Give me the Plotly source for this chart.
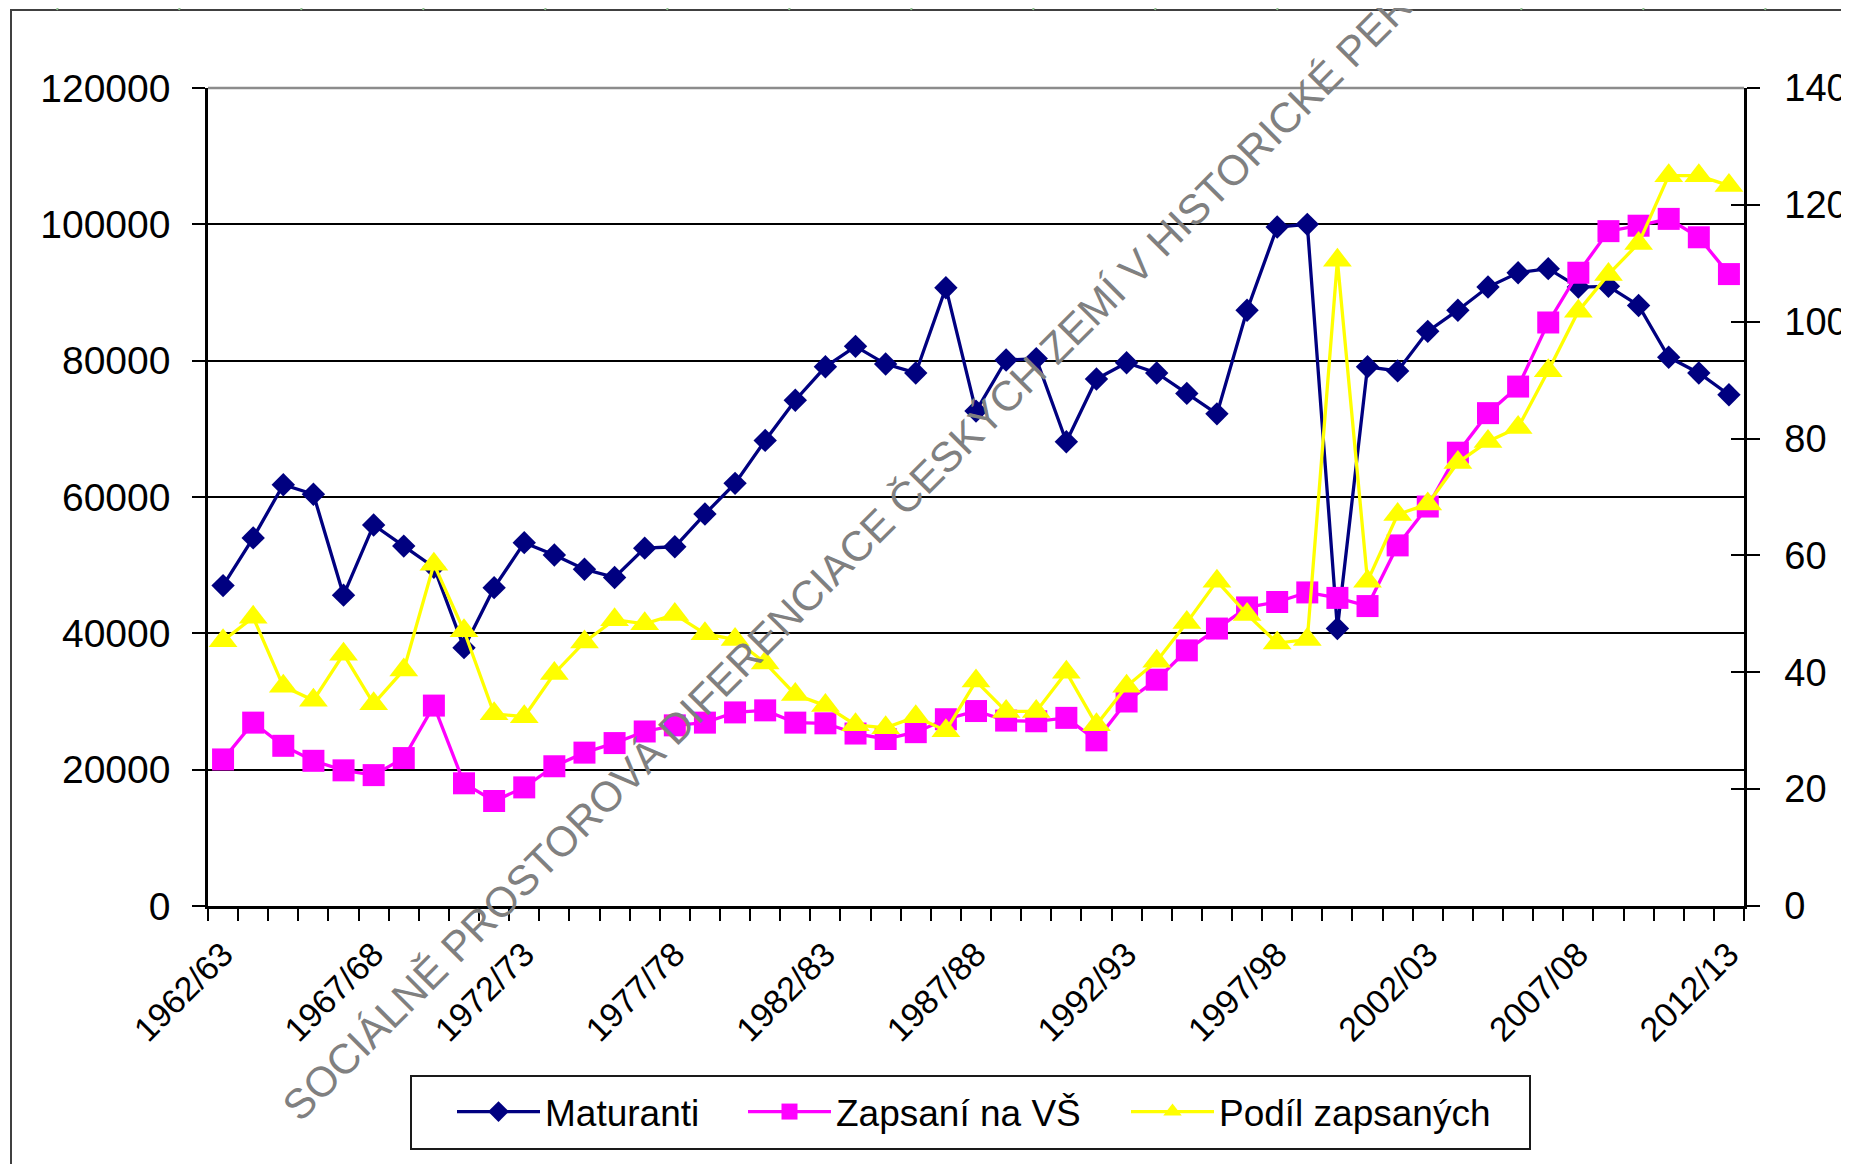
import plotly.graph_objects as go

# ---- data ----
years = [f"{y}/{str(y + 1)[-2:]}" for y in range(1962, 2013)]
maturanti = [47000, 54000, 61800, 60400, 45600, 55900, 52800, 49700, 37900, 46700,
             53300, 51500, 49400, 48200, 52500, 52700, 57500, 62000, 68300, 74200,
             79100, 82100, 79500, 78200, 90700, 72600, 80100, 80300, 68100, 77300,
             79700, 78200, 75200, 72200, 87400, 99600, 100000, 40700, 79100, 78500,
             84300, 87400, 90800, 92900, 93500, 90800, 90900, 88100, 80500, 78200, 75000]
zapsani = [21500, 26900, 23500, 21300, 19900, 19200, 21700, 29400, 18000, 15400,
           17400, 20500, 22500, 23900, 25600, 26500, 26900, 28400, 28700, 26900,
           26800, 25300, 24500, 25500, 27400, 28600, 27200, 27100, 27600, 24300,
           30000, 33200, 37500, 40700, 43800, 44600, 46000, 45200, 44000, 52900,
           58600, 66500, 72300, 76200, 85600, 92900, 99000, 99800, 100800, 98100, 92700]
podil = [45.4, 49.4, 37.6, 35.2, 43.1, 34.6, 40.4, 58.5, 47.1, 32.9,
         32.4, 39.8, 45.2, 49.0, 48.3, 49.9, 46.6, 45.6, 41.6, 36.2,
         34.3, 31.0, 30.5, 32.4, 30.0, 38.5, 33.3, 33.3, 40.0, 31.0,
         37.6, 41.9, 48.5, 55.6, 49.9, 45.0, 45.6, 110.5, 55.6, 67.0,
         68.8, 75.9, 79.5, 81.9, 91.6, 101.8, 108.1, 113.4, 125.0, 125.0, 123.3]
label_step = 5
left_ticks = [0, 20000, 40000, 60000, 80000, 100000, 120000]
right_ticks = [0, 20, 40, 60, 80, 100, 120, 140]

xs = list(range(len(years)))
tick_idx = xs[::label_step]

# page is 1849x1164; the figure sits at the default 8px body margin
OFF = 8
W, H = 1849 - OFF, 1164 - OFF
# plot-area edges in page pixels
PL, PR, PT, PB = 208, 1744, 88, 906
L, T = PL - OFF, PT - OFF
R, B = W - (PR - OFF), H - (PB - OFF)
pw, ph = W - L - R, H - T - B
FONT = "Liberation Sans, Arial, sans-serif"


def px_x(px):  # page px -> paper x
    return (px - OFF - L) / pw


def px_y(py):  # page px -> paper y
    return (H - B - (py - OFF)) / ph


fig = go.Figure()
fig.add_trace(go.Scatter(
    x=xs, y=maturanti, name="Maturanti", mode="lines+markers",
    line=dict(color="#000080", width=3.3), legendwidth=193,
    marker=dict(symbol="diamond", size=18, color="#000080")))
fig.add_trace(go.Scatter(
    x=xs, y=zapsani, name="Zapsaní na VŠ", mode="lines+markers",
    line=dict(color="#FF00FF", width=3.3), legendwidth=285,
    marker=dict(symbol="square", size=22, color="#FF00FF")))
fig.add_trace(go.Scatter(
    x=xs, y=podil, name="Podíl zapsaných", mode="lines+markers", yaxis="y2",
    line=dict(color="#FFFF00", width=3.3), legendwidth=280,
    marker=dict(symbol="triangle-up", size=25, color="#FFFF00")))
# invisible helper trace for the inward-facing half of the right-axis ticks
fig.add_trace(go.Scatter(x=[xs[0]], y=[right_ticks[0]], yaxis="y3", mode="markers",
                         marker=dict(opacity=0), showlegend=False, hoverinfo="skip"))

fig.update_layout(
    width=W, height=H,
    margin=dict(l=L, r=R, t=T, b=B, pad=0, autoexpand=False),
    paper_bgcolor="white", plot_bgcolor="white",
    font=dict(family=FONT, color="black", size=36),
    showlegend=True,
    legend=dict(orientation="h", x=px_x(452), xanchor="left",
                y=px_y(1112), yanchor="middle",
                borderwidth=0, bgcolor="rgba(0,0,0,0)",
                font=dict(family=FONT, size=37, color="black"),
                itemwidth=83, traceorder="normal"),
    xaxis=dict(
        range=[-0.5, len(years) - 0.5],
        tickmode="array", tickvals=tick_idx, ticktext=[years[i] for i in tick_idx],
        tickangle=-45, tickfont=dict(family=FONT, size=34, color="black"),
        ticks="outside", ticklen=12, tickcolor="rgba(0,0,0,0)",
        minor=dict(tickmode="linear", tick0=-0.5, dtick=1, ticks="outside",
                   ticklen=12, tickwidth=2, tickcolor="black", showgrid=False),
        showline=True, linecolor="black", linewidth=2.5,
        showgrid=False, zeroline=False, fixedrange=True),
    yaxis=dict(
        range=[left_ticks[0], left_ticks[-1]], tickmode="array", tickvals=left_ticks,
        tickformat="d", tickfont=dict(family=FONT, size=39, color="black"),
        ticks="outside", ticklen=13, tickwidth=2, tickcolor="black",
        ticklabelstandoff=14,
        showline=True, linecolor="black", linewidth=2.5,
        showgrid=True, gridcolor="black", gridwidth=1.5, zeroline=False),
    yaxis2=dict(
        range=[right_ticks[0], right_ticks[-1]], tickmode="array", tickvals=right_ticks,
        overlaying="y", side="right", anchor="x",
        tickfont=dict(family=FONT, size=38, color="black"),
        ticks="outside", ticklen=13, tickwidth=2, tickcolor="black",
        ticklabelstandoff=17,
        showline=True, linecolor="black", linewidth=2.5,
        showgrid=False, zeroline=False),
    yaxis3=dict(
        range=[right_ticks[0], right_ticks[-1]], tickmode="array", tickvals=right_ticks,
        overlaying="y", side="right", anchor="x",
        ticks="inside", ticklen=13, tickwidth=2, tickcolor="black",
        showticklabels=False, showline=False, showgrid=False, zeroline=False),
)

# top border of plot area (gray), outer frame, legend frame
fig.add_shape(type="line", xref="paper", yref="paper", x0=0, x1=1, y0=1, y1=1,
              line=dict(color="#8c8c8c", width=2.5), layer="above")
fig.add_shape(type="rect", xref="paper", yref="paper",
              x0=px_x(11), y0=px_y(10), x1=px_x(1900), y1=px_y(1200),
              line=dict(color="#404040", width=2), layer="below")
fig.add_shape(type="rect", xref="paper", yref="paper",
              x0=px_x(411), y0=px_y(1076), x1=px_x(1530), y1=px_y(1149),
              line=dict(color="#1a1a1a", width=2), fillcolor="white", layer="below")

# faint slide-background strokes peeking above the frame
for sx in range(57, 1849, 122):
    fig.add_shape(type="line", xref="paper", yref="paper",
                  x0=px_x(sx), y0=px_y(10), x1=px_x(sx + 3), y1=px_y(0),
                  line=dict(color="#8fbf8f", width=2), layer="below")

# watermark
fig.add_annotation(
    text="SOCIÁLNĚ PROSTOROVÁ DIFERENCIACE ČESKÝCH ZEMÍ V HISTORICKÉ PERSPEKTIVĚ",
    xref="paper", yref="paper", x=px_x(271), y=px_y(1132),
    xanchor="left", yanchor="bottom", textangle=-45, showarrow=False,
    font=dict(family=FONT, size=42, color="#808080"))

fig.write_html("out.html")
